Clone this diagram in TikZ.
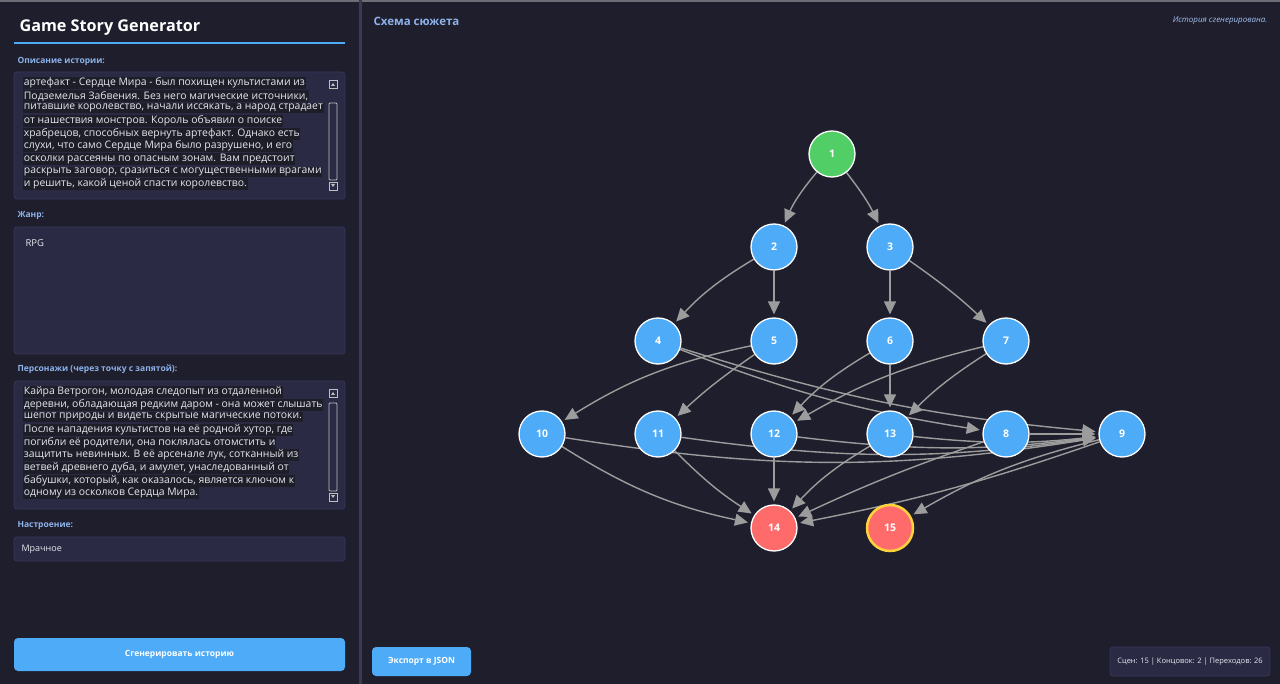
\documentclass[tikz,border=0pt]{standalone}
\usepackage{fontspec}
\setmainfont{Open Sans}
\usepackage{tikz}
\usetikzlibrary{arrows.meta}
\usepackage{xcolor}
\definecolor{bgdark}{HTML}{1E1E2D}
\definecolor{sepline}{HTML}{3A3A56}
\definecolor{boxfill}{HTML}{2A2A44}
\definecolor{boxline}{HTML}{36365A}
\definecolor{hilite}{HTML}{1E1E28}
\definecolor{labelblue}{HTML}{8DB2EA}
\definecolor{nodeblue}{HTML}{4DABF7}
\definecolor{nodegreen}{HTML}{51CF66}
\definecolor{nodered}{HTML}{FF6B6B}
\definecolor{gold}{HTML}{FFD43B}
\definecolor{edgegray}{HTML}{9C9C9C}
\definecolor{textwhite}{HTML}{E6E6EE}
\pgfdeclarelayer{back}
\pgfdeclarelayer{wires}
\pgfsetlayers{back,wires,main}

\begin{document}
\begin{tikzpicture}[x=1pt, y=-1pt,
  scene/.style={circle, draw=white, line width=1.3pt, fill=nodeblue, minimum size=46pt, inner sep=0pt, text=white, font=\fontsize{10.5}{12}\selectfont\bfseries},
  start/.style={scene, fill=nodegreen},
  ending/.style={scene, fill=nodered},
  link/.style={-{Triangle[length=13pt,width=12pt]}, draw=edgegray, line width=1.4pt, shorten >=3pt},
  field/.style={draw=boxline, fill=boxfill, rounded corners=3pt, line width=0.8pt},
  fieldname/.style={anchor=west, text=labelblue, font=\fontsize{8.5}{10}\selectfont\bfseries},
  txt/.style={anchor=west, text=textwhite, fill=hilite, inner sep=0.7pt, font=\fontsize{10.4}{12}\selectfont},
  button/.style={fill=nodeblue, rounded corners=4pt, text=white, font=\fontsize{8.5}{10}\selectfont\bfseries},
  scroll/.style={draw=white!75!black, line width=0.8pt}
]
\useasboundingbox (0,0) rectangle (1280,684);
\begin{pgfonlayer}{back}
\fill[bgdark] (0,0) rectangle (1280,684);
\end{pgfonlayer}
\draw[white!35!bgdark, line width=2pt] (0,1) -- (1280,1);
\draw[sepline, line width=3pt] (360,0) -- (360,684);

% левая панель
\node[anchor=west, text=white, font=\fontsize{16.2}{20}\selectfont\bfseries] (title) at (16,28) {Game Story Generator};
\draw[nodeblue, line width=1.8pt] (14,43) -- (345,43);

\node[fieldname] (lbl1) at (14,61) {Описание истории:};
\filldraw[field] (14,72) rectangle (345,199);
\node[txt] (d1) at (23,83) {артефакт - Сердце Мира - был похищен культистами из};
\node[txt] (d2) at (23,96) {Подземелья Забвения. Без него магические источники,};
\node[txt] (d3) at (23,108) {питавшие королевство, начали иссякать, а народ страдает};
\node[txt] (d4) at (23,121) {от нашествия монстров. Король объявил о поиске};
\node[txt] (d5) at (23,134) {храбрецов, способных вернуть артефакт. Однако есть};
\node[txt] (d6) at (23,146) {слухи, что само Сердце Мира было разрушено, и его};
\node[txt] (d7) at (23,159) {осколки рассеяны по опасным зонам. Вам предстоит};
\node[txt] (d8) at (23,172) {раскрыть заговор, сразиться с могущественными врагами};
\node[txt] (d9) at (23,184) {и решить, какой ценой спасти королевство.};
% полоса прокрутки
\draw[scroll] (329,80) rectangle (337,88);
\fill[white!75!black] (331,86) -- (335,86) -- (333,83) -- cycle;
\draw[scroll, rounded corners=1pt] (329,103) rectangle (337,180);
\draw[scroll] (329,182) rectangle (337,190);
\fill[white!75!black] (331,184) -- (335,184) -- (333,187) -- cycle;

\node[fieldname] (lbl2) at (14,215) {Жанр:};
\filldraw[field] (14,227) rectangle (345,354);
\node[anchor=west, text=textwhite, font=\fontsize{9.5}{11}\selectfont] (genre) at (22,243) {RPG};

\node[fieldname] (lbl3) at (14,369) {Персонажи (через точку с запятой):};
\filldraw[field] (14,381) rectangle (345,509);
\node[txt] (c1) at (23,392) {Кайра Ветрогон, молодая следопыт из отдаленной};
\node[txt] (c2) at (23,405) {деревни, обладающая редким даром - она может слышать};
\node[txt] (c3) at (23,417) {шепот природы и видеть скрытые магические потоки.};
\node[txt] (c4) at (23,430) {После нападения культистов на её родной хутор, где};
\node[txt] (c5) at (23,443) {погибли её родители, она поклялась отомстить и};
\node[txt] (c6) at (23,455) {защитить невинных. В её арсенале лук, сотканный из};
\node[txt] (c7) at (23,468) {ветвей древнего дуба, и амулет, унаследованный от};
\node[txt] (c8) at (23,481) {бабушки, который, как оказалось, является ключом к};
\node[txt] (c9) at (23,493) {одному из осколков Сердца Мира.};
\draw[scroll] (329,389) rectangle (337,397);
\fill[white!75!black] (331,395) -- (335,395) -- (333,392) -- cycle;
\draw[scroll, rounded corners=1pt] (329,403) rectangle (337,491);
\draw[scroll] (329,493) rectangle (337,501);
\fill[white!75!black] (331,495) -- (335,495) -- (333,498) -- cycle;

\node[fieldname] (lbl4) at (14,525) {Настроение:};
\filldraw[field] (14,537) rectangle (345,561);
\node[anchor=west, text=textwhite, font=\fontsize{9}{11}\selectfont] (mood) at (18,549) {Мрачное};

\node[button, minimum width=331pt, minimum height=33pt] (gen) at (179.5,654.5) {Сгенерировать историю};

% правая панель
\node[anchor=west, text=labelblue, font=\fontsize{11.5}{14}\selectfont\bfseries] (scheme) at (370,21) {Схема сюжета};
\node[anchor=east, text=labelblue!80!white, font=\fontsize{8}{10}\selectfont\itshape] (status) at (1271,21) {История сгенерирована.};
\node[button, minimum width=99pt, minimum height=29pt] (json) at (421.5,661.5) {Экспорт в JSON};
\node[field, minimum width=160pt, minimum height=29pt, text=textwhite, font=\fontsize{7.5}{9}\selectfont] (stats) at (1190,661.5) {Сцен: 15 | Концовок: 2 | Переходов: 26};

% сцены
\node[start] (n1) at (832,154) {1};
\node[scene] (n2) at (774,247) {2};
\node[scene] (n3) at (890,247) {3};
\node[scene] (n4) at (658,341) {4};
\node[scene] (n5) at (774,341) {5};
\node[scene] (n6) at (890,341) {6};
\node[scene] (n7) at (1006,341) {7};
\node[scene] (n10) at (542,434) {10};
\node[scene] (n11) at (658,434) {11};
\node[scene] (n12) at (774,434) {12};
\node[scene] (n13) at (890,434) {13};
\node[scene] (n8) at (1006,434) {8};
\node[scene] (n9) at (1122,434) {9};
\node[ending] (n14) at (774,528) {14};
\node[ending, draw=gold, line width=2.5pt] (n15) at (890,528) {15};

% переходы (под сценами)
\begin{pgfonlayer}{wires}
\draw[link] (n1) to[bend right=8] (n2);
\draw[link] (n1) to[bend left=6] (n3);
\draw[link] (n2) to[bend right=8] (n4);
\draw[link] (n2) -- (n5);
\draw[link] (n3) -- (n6);
\draw[link] (n3) to[bend left=4] (n7);
\draw[link] (n4) to[bend right=6] (n8);
\draw[link] (n4) to[bend right=6] (n9);
\draw[link] (n5) to[bend right=10] (n10);
\draw[link] (n5) to[bend right=4] (n11);
\draw[link] (n6) to[bend right=8] (n12);
\draw[link] (n6) -- (n13);
\draw[link] (n7) to[bend right=8] (n12);
\draw[link] (n7) to[bend right=6] (n13);
\draw[link] (n10) to[bend right=9] (n9);
\draw[link] (n11) to[bend right=8] (n9);
\draw[link] (n12) to[bend right=7] (n9);
\draw[link] (n13) to[bend right=6] (n9);
\draw[link] (n8) -- (n9);
\draw[link] (n10) to[bend right=10] (n14);
\draw[link] (n11) to[bend right=6] (n14);
\draw[link] (n12) -- (n14);
\draw[link] (n13) to[bend right=8] (n14);
\draw[link] (n8) to[bend right=3] (n14);
\draw[link] (n9) to[bend left=4] (n14);
\draw[link] (n9) to[bend right=8] (n15);
\end{pgfonlayer}
\end{tikzpicture}
\end{document}
